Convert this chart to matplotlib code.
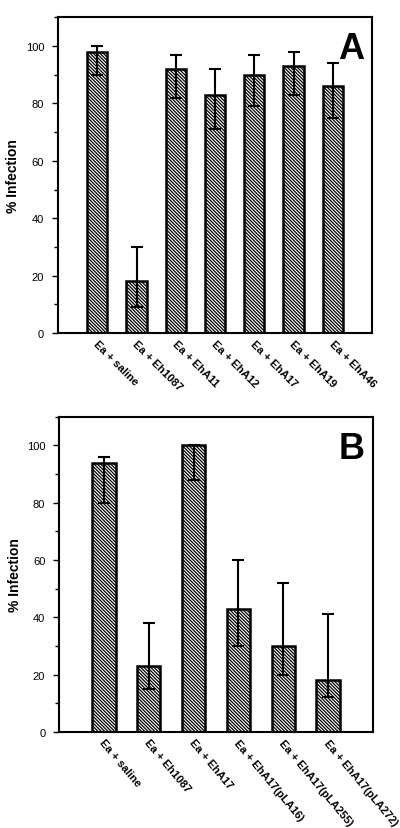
import matplotlib
matplotlib.use('Agg')
import matplotlib.pyplot as plt
from matplotlib.ticker import MultipleLocator

plt.rcParams['font.family'] = ['Liberation Sans', 'DejaVu Sans']
plt.rcParams['hatch.linewidth'] = 0.9

# Panel A
labels_a = ['Ea + saline', 'Ea + Eh1087', 'Ea + EhA11', 'Ea + EhA12',
            'Ea + EhA17', 'Ea + EhA19', 'Ea + EhA46']
values_a = [98, 18, 92, 83, 90, 93, 86]
err_low_a = [8, 9, 10, 12, 11, 10, 11]
err_high_a = [2, 12, 5, 9, 7, 5, 8]

# Panel B
labels_b = ['Ea + saline', 'Ea + Eh1087', 'Ea + EhA17', 'Ea + EhA17(pLA16)',
            'Ea + EhA17(pLA255)', 'Ea + EhA17(pLA272)']
values_b = [94, 23, 100, 43, 30, 18]
err_low_b = [14, 8, 12, 13, 10, 6]
err_high_b = [2, 15, 0, 17, 22, 23]

fig = plt.figure(figsize=(4, 8.29), dpi=100)
ax_a = fig.add_axes([0.145, 0.597, 0.785, 0.381])
ax_b = fig.add_axes([0.148, 0.116, 0.784, 0.380])


def draw_panel(ax, labels, values, lo, hi, letter, rot):
    x = list(range(len(values)))
    ax.bar(x, values, width=0.52, color='white', edgecolor='black',
           linewidth=1.8, hatch='\\' * 10, zorder=2)
    ax.errorbar(x, values, yerr=[lo, hi], fmt='none', ecolor='black',
                elinewidth=1.5, capsize=4, capthick=1.5, zorder=3)
    ax.set_xlim(-1, len(values))
    ax.set_ylim(0, 110)
    ax.yaxis.set_major_locator(MultipleLocator(20))
    ax.yaxis.set_minor_locator(MultipleLocator(10))
    ax.set_yticks([0, 20, 40, 60, 80, 100])
    ax.tick_params(axis='y', which='major', length=4, width=1, labelsize=8, pad=6)
    ax.tick_params(axis='y', which='minor', length=3, width=1)
    ax.set_xticks([])
    for s in ax.spines.values():
        s.set_linewidth(1.5)
    ax.set_ylabel('% Infection', fontsize=10, fontweight='bold')
    ax.yaxis.set_label_coords(-0.12, 0.5)
    for xi, lab in zip(x, labels):
        ax.text(xi - 0.05, -3, lab, rotation=rot, rotation_mode='anchor',
                ha='left', va='center', fontsize=8, fontweight='bold',
                family=['Liberation Sans Narrow', 'Liberation Sans'],
                transform=ax.transData, clip_on=False)
    ax.text(0.975, 0.955, letter, transform=ax.transAxes, ha='right', va='top',
            fontsize=26, fontweight='bold')


draw_panel(ax_a, labels_a, values_a, err_low_a, err_high_a, 'A', -45)
draw_panel(ax_b, labels_b, values_b, err_low_b, err_high_b, 'B', -50)

fig.savefig('out.png', dpi=100)
